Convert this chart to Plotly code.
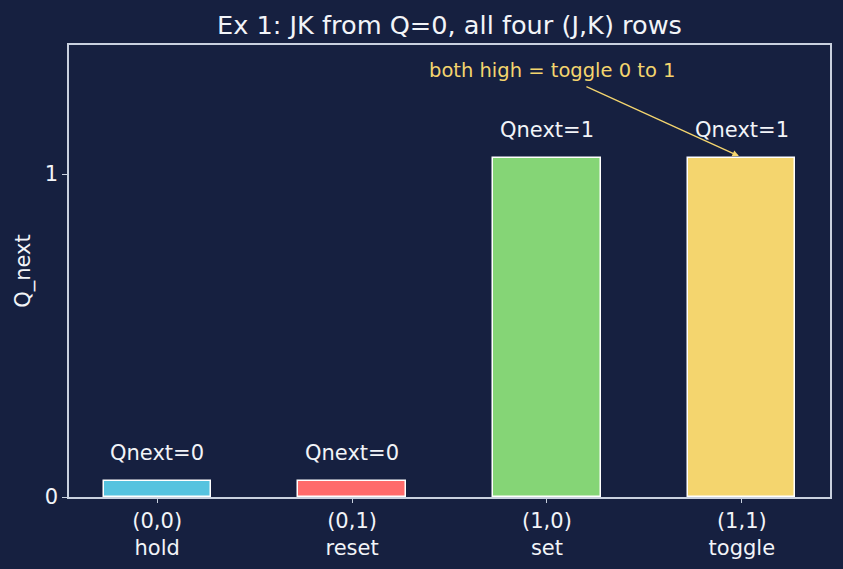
import plotly.graph_objects as go

categories = ["(0,0)<br>hold", "(0,1)<br>reset", "(1,0)<br>set", "(1,1)<br>toggle"]
qnext = [0, 0, 1, 1]
bar_heights = [0.05, 0.05, 1.05, 1.05]
bar_colors = ["#56C3DF", "#FF6B6B", "#85D576", "#F4D56E"]
value_labels = ["Qnext=0", "Qnext=0", "Qnext=1", "Qnext=1"]

BG = "#162040"
FG = "#F2F4F8"
AXIS = "#C9D1DF"

x_idx = list(range(len(categories)))

fig = go.Figure()
fig.add_trace(go.Bar(
    x=x_idx, y=bar_heights, width=0.55,
    marker=dict(color=bar_colors, line=dict(color="#FFFFFF", width=1.5)),
    showlegend=False, hoverinfo="skip",
))

annotations = []
for xi, h, lab in zip(x_idx, bar_heights, value_labels):
    annotations.append(dict(x=xi, y=h + 0.043, text=lab, showarrow=False,
                            xanchor="center", yanchor="bottom",
                            font=dict(family="DejaVu Sans", size=21, color=FG)))

annotations.append(dict(x=2.03, y=1.32, text="both high = toggle 0 to 1", showarrow=False,
                        xanchor="center", yanchor="middle",
                        font=dict(family="DejaVu Sans", size=19.5, color="#F4D56E")))
annotations.append(dict(x=2.985, y=1.056, ax=2.195, ay=1.273, axref="x", ayref="y",
                        xref="x", yref="y", text="", showarrow=True,
                        arrowhead=2, arrowsize=1, arrowwidth=1.3, arrowcolor="#F4D56E"))

fig.update_layout(
    width=843, height=569,
    paper_bgcolor=BG, plot_bgcolor=BG,
    margin=dict(l=69, r=13, t=45, b=72, autoexpand=False),
    title=dict(text="Ex 1: JK from Q=0, all four (J,K) rows", x=0.5, xanchor="center", xref="paper",
               y=1 - 25 / 569, yanchor="middle",
               font=dict(family="DejaVu Sans", size=25.6, color=FG)),
    font=dict(family="DejaVu Sans", size=21, color=FG),
    annotations=annotations,
    bargap=0,
)
fig.update_xaxes(
    range=[-0.4525, 3.4525], tickmode="array", tickvals=x_idx, ticktext=categories,
    showline=True, linecolor=AXIS, linewidth=1.5, mirror=True, automargin=False,
    ticks="outside", ticklen=4, tickcolor=AXIS, showgrid=False, zeroline=False,
    tickfont=dict(family="DejaVu Sans", size=21, color=FG),
)
fig.update_yaxes(
    range=[0, 1.4], tickmode="array", tickvals=[0, 1], ticktext=["0", "1"],
    showline=True, linecolor=AXIS, linewidth=1.5, mirror=True, automargin=False,
    ticks="outside", ticklen=5, tickcolor=AXIS, showgrid=False, zeroline=False,
    tickfont=dict(family="DejaVu Sans", size=21, color=FG),
    title=dict(text="Q_next", font=dict(family="DejaVu Sans", size=21, color=FG), standoff=8),
)

fig.write_html("out.html")
